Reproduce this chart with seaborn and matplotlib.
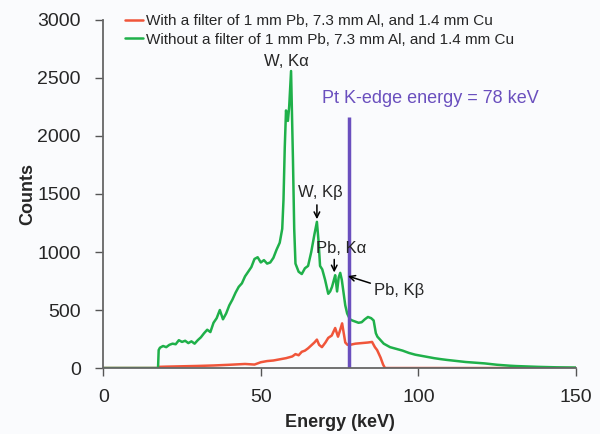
import numpy as np
import pandas as pd
import matplotlib
matplotlib.use("Agg")
import matplotlib.pyplot as plt
import seaborn as sns

# values
energy_green = [0, 17.4, 17.6, 18, 19, 20, 21, 22, 23, 24, 25, 26, 27, 28, 29, 30,
                31, 32, 33, 34, 35, 36, 37, 38, 39, 40, 41, 42, 43, 44, 45, 46, 47,
                48, 49, 50, 51, 52, 53, 54, 55, 56, 56.8, 57.2, 57.6, 58.0, 58.6,
                59.0, 59.6, 60.2, 60.6, 61, 62, 63, 64, 65, 66, 67, 67.8, 68.3, 68.8,
                69.5, 70.4, 71.4, 72.0, 72.6, 73.2, 73.6, 74.2, 74.7, 75.2, 75.7,
                76.1, 76.8, 77.4, 78.3, 79, 80, 81, 82, 83, 84, 85, 85.8, 86.5, 87,
                88, 89, 90, 91, 93, 95, 97, 99, 101, 103, 105, 107, 109, 111, 113,
                115, 117, 119, 121, 123, 125, 127, 129, 131, 133, 135, 138, 141, 144,
                147, 150]
counts_green = [0, 0, 155, 175, 190, 180, 200, 210, 205, 240, 225, 235, 215, 230,
                210, 240, 265, 300, 330, 310, 390, 430, 500, 420, 470, 540, 590, 650,
                700, 730, 790, 830, 870, 940, 955, 910, 930, 900, 910, 950, 1020, 1080,
                1200, 1450, 1900, 2220, 2130, 2250, 2560, 1800, 1200, 900, 830, 810,
                860, 880, 1000, 1150, 1260, 1100, 880, 850, 760, 640, 660, 700, 760,
                800, 660, 780, 820, 760, 680, 540, 470, 420, 410, 400, 390, 395, 420,
                440, 430, 410, 300, 270, 240, 210, 195, 180, 165, 150, 130, 115, 105,
                95, 85, 77, 70, 64, 58, 52, 48, 44, 40, 34, 28, 24, 20, 17, 15, 13,
                10, 8, 6, 5, 4]

energy_red = [0, 17.4, 17.6, 20, 25, 30, 35, 40, 45, 48, 50, 52, 54, 56, 58, 60, 61,
              62, 63, 64, 65, 66, 67, 67.8, 68.5, 69.4, 70.5, 71.4, 72.5, 73.6, 74.5,
              75.2, 75.8, 76.8, 77.5, 78.3, 80, 82, 84, 85.3, 86.2, 86.9, 88, 88.8,
              89.4, 150]
counts_red = [0, 0, 10, 12, 15, 18, 22, 28, 35, 30, 50, 60, 65, 75, 85, 100, 120,
              110, 140, 150, 170, 195, 220, 245, 200, 180, 220, 260, 280, 345, 270,
              330, 385, 220, 200, 200, 210, 215, 220, 225, 180, 155, 90, 30, 0, 0]

label_red = "With a filter of 1 mm Pb, 7.3 mm Al, and 1.4 mm Cu"
label_green = "Without a filter of 1 mm Pb, 7.3 mm Al, and 1.4 mm Cu"
pt_edge = 78
pt_edge_top = 2160

df_red = pd.DataFrame({"energy": energy_red, "counts": counts_red})
df_green = pd.DataFrame({"energy": energy_green, "counts": counts_green})

sns.set_style("white")
plt.rcParams["font.family"] = ["Liberation Sans", "DejaVu Sans"]

fig = plt.figure(figsize=(6, 4.34), dpi=100, facecolor="#fafbfd")
ax = fig.add_axes([0.172, 0.152, 0.788, 0.802])
ax.set_facecolor("#fafbfd")

sns.lineplot(data=df_red, x="energy", y="counts", ax=ax, color="#f0553a",
             lw=1.8, estimator=None, label=label_red)
sns.lineplot(data=df_green, x="energy", y="counts", ax=ax, color="#1fb04a",
             lw=1.8, estimator=None, label=label_green)
ax.vlines(pt_edge, 0, pt_edge_top, color="#6a4fbe", lw=2.5)

ax.set_xlim(0, 150)
ax.set_ylim(0, 3000)
ax.set_xticks([0, 50, 100, 150])
ax.set_yticks(range(0, 3001, 500))
ax.set_xlabel("Energy (keV)", fontsize=13, fontweight="bold", labelpad=6)
ax.set_ylabel("Counts", fontsize=13, fontweight="bold", labelpad=1)
ax.tick_params(axis="both", labelsize=14, length=6, width=1, color="#555555",
               direction="out", bottom=True, left=True)
ax.tick_params(axis="y", pad=10)
ax.tick_params(axis="x", pad=9)
for s in ["top", "right"]:
    ax.spines[s].set_visible(False)
for s in ["left", "bottom"]:
    ax.spines[s].set_color("#666666")
    ax.spines[s].set_linewidth(1.3)

ax.text(69.5, 2320, "Pt K-edge energy = 78 keV", color="#6a4fbe", fontsize=13,
        ha="left", va="center")
ax.text(58.0, 2640, "W, K\u03b1", fontsize=12, ha="center", va="center")
ax.text(68.8, 1510, "W, K\u03b2", fontsize=12, ha="center", va="center")
ax.text(75.5, 1030, "Pb, K\u03b1", fontsize=12, ha="center", va="center")
ax.text(86.0, 664, "Pb, K\u03b2", fontsize=12, ha="left", va="center")

arrow = dict(arrowstyle="->", color="black", lw=1.1)
ax.annotate("", xy=(67.8, 1259), xytext=(67.8, 1430), arrowprops=arrow)
ax.annotate("", xy=(73.3, 800), xytext=(73.3, 960), arrowprops=arrow)
ax.annotate("", xy=(76.8, 800), xytext=(85.6, 724), arrowprops=arrow)

ax.legend(loc="upper left", bbox_to_anchor=(0.195, 0.985),
          bbox_transform=fig.transFigure, frameon=False, fontsize=11,
          handlelength=1.2, handletextpad=0.2, borderpad=0, labelspacing=0.3)

fig.savefig("out.png", dpi=100, facecolor=fig.get_facecolor())
